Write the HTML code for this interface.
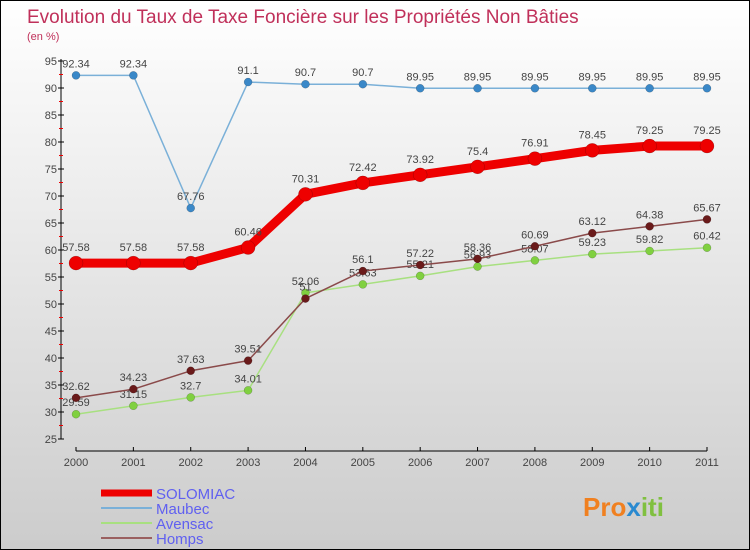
<!DOCTYPE html>
<html><head><meta charset="utf-8"><style>
body{margin:0}
#c{width:750px;height:550px;position:relative;box-sizing:border-box;border:1px solid #000;background:linear-gradient(#fff,#ccc);font-family:"Liberation Sans",sans-serif;overflow:hidden}
svg text{font-family:"Liberation Sans",sans-serif}
</style></head><body>
<div id="c">
<svg id="s" width="750" height="550">
<text x="26" y="22" font-size="19" fill="#c0305a">Evolution du Taux de Taxe Foncière sur les Propriétés Non Bâties</text>
<text x="26" y="39" font-size="11" fill="#c0305a">(en %)</text>
<g id="axes"></g><g id="series"></g><g id="legend"></g>
<text x="582" y="515" font-size="26" font-weight="bold" fill="#f08020">Pro<tspan fill="#2a8ad0">x</tspan><tspan fill="#80c040">iti</tspan></text>
</svg>
</div>
<script>
const years=["2000","2001","2002","2003","2004","2005","2006","2007","2008","2009","2010","2011"];
const solomiac=[57.58,57.58,57.58,60.46,70.31,72.42,73.92,75.4,76.91,78.45,79.25,79.25];
const maubec=[92.34,92.34,67.76,91.1,90.7,90.7,89.95,89.95,89.95,89.95,89.95,89.95];
const avensac=[29.59,31.15,32.7,34.01,52.06,53.63,55.21,56.93,58.07,59.23,59.82,60.42];
const homps=[32.62,34.23,37.63,39.51,51,56.1,57.22,58.36,60.69,63.12,64.38,65.67];
const yTicks=[25,30,35,40,45,50,55,60,65,70,75,80,85,90,95];
const NS="http://www.w3.org/2000/svg";
function X(i){return 75+i*(706-75)/11;}
function Y(v){return 60+(95-v)*5.4;}
function mk(t,a,p){const e=document.createElementNS(NS,t);for(const k in a)e.setAttribute(k,a[k]);p.appendChild(e);return e;}
const ax=document.getElementById('axes');
let l=mk('line',{x1:60,y1:58,x2:60,y2:438,stroke:'#000'},ax);


l=mk('line',{x1:75,y1:450,x2:706,y2:450,stroke:'#000'},ax);


yTicks.forEach((v,i)=>{
 mk('line',{x1:57,y1:Y(v),x2:63,y2:Y(v),stroke:'#000'},ax);
 if(i<yTicks.length-1)mk('line',{x1:58,y1:Y(v+2.5),x2:62,y2:Y(v+2.5),stroke:'#e00'},ax);
 const t=mk('text',{x:56,y:Y(v)+4,'font-size':11,fill:'#444','text-anchor':'end'},ax);t.textContent=v;
 
 
});
years.forEach((y,i)=>{
 mk('line',{x1:X(i),y1:446,x2:X(i),y2:450,stroke:'#000'},ax);
 const t=mk('text',{x:X(i),y:465,'font-size':11,fill:'#444','text-anchor':'middle'},ax);t.textContent=y;
 
 
});
const sg=document.getElementById('series');
function draw(name,data,color,w,r,dot,lblOff){
 const g=mk('g',{},sg);
 
 
 const pl=mk('polyline',{points:data.map((v,i)=>X(i)+','+Y(v)).join(' '),fill:'none',stroke:color,'stroke-width':w,'stroke-linejoin':'round'},g);
 
 
 data.forEach((v,i)=>{
  const c=mk('circle',{cx:X(i),cy:Y(v),r:r,fill:dot,stroke:'rgba(0,0,0,0.3)','stroke-width':0.5},g);
  
  
  const t=mk('text',{x:X(i),y:Y(v)+lblOff,'font-size':11,fill:'#444','text-anchor':'middle'},g);t.textContent=v;
  
  
 });
}
draw('maubec',maubec,'#7ab0d8',1.5,4,'#3a88c8',-8);
draw('avensac',avensac,'#a8e080',1.5,4,'#80d040',-8);
draw('homps',homps,'#8a4a4a',1.5,4,'#6a1a1a',-8);
draw('solomiac',solomiac,'#ee0000',9,7,'#ee0000',-12);
const lg=document.getElementById('legend');
[['SOLOMIAC','#ee0000',7],['Maubec','#7ab0d8',2],['Avensac','#a8e080',2],['Homps','#9a6060',2]].forEach((d,i)=>{
 const y=492+i*15;
 const ln=mk('line',{x1:100,y1:y,x2:151,y2:y,stroke:d[1],'stroke-width':d[2]},lg);
 
 
 const t=mk('text',{x:155,y:y+6,'font-size':15,fill:'#6060f0'},lg);t.textContent=d[0];
 
 
});
</script>
</body></html>
